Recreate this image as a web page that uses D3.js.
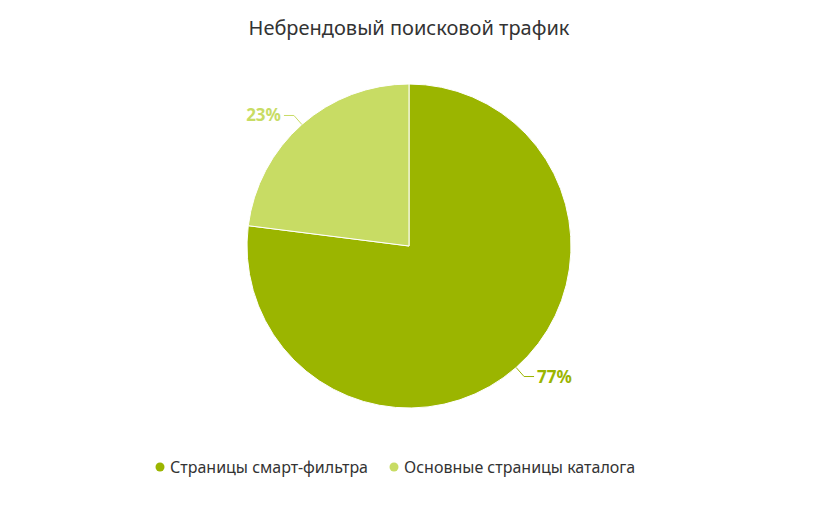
<!DOCTYPE html>
<html><head><meta charset="utf-8">
<script src="https://cdn.jsdelivr.net/npm/d3@7"></script>
<style>body{margin:0;background:#fff}</style>
</head><body>
<script>
var w = 818, h = 506;
var categories = ["Страницы смарт-фильтра", "Основные страницы каталога"];
var values = [77, 23];
var colors = ["#9bb500", "#c8dc64"];

var svg = d3.select("body").append("svg").attr("width", w).attr("height", h)
  .style("font-family", "'Noto Sans', sans-serif");

svg.append("text").attr("x", w/2).attr("y", 35).attr("text-anchor", "middle")
  .attr("font-size", 20).attr("fill", "#333").text("Небрендовый поисковой трафик");

var cx = 409, cy = 246, r = 162;
var pie = d3.pie().sort(null).value(function(d){ return d; });
var arc = d3.arc().innerRadius(0).outerRadius(r);
var arcs = pie(values);
var g = svg.append("g").attr("transform", "translate(" + cx + "," + cy + ")");

g.selectAll("path").data(arcs).enter().append("path")
  .attr("d", arc)
  .attr("fill", function(d, i){ return colors[i]; })
  .attr("stroke", "#fff").attr("stroke-width", 1);

arcs.forEach(function(d, i){
  var a = (d.startAngle + d.endAngle) / 2;
  var p0 = [Math.sin(a) * r, -Math.cos(a) * r];
  var p1 = [Math.sin(a) * (r + 12), -Math.cos(a) * (r + 12)];
  var right = Math.sin(a) > 0;
  var p2 = [p1[0] + (right ? 10 : -10), p1[1]];
  g.append("polyline").attr("points", [p0, p1, p2].map(function(p){ return p.join(","); }).join(" "))
    .attr("fill", "none").attr("stroke", colors[i]).attr("stroke-width", 1);
  g.append("text").attr("x", p2[0] + (right ? 3 : -3)).attr("y", p2[1] + 6)
    .attr("text-anchor", right ? "start" : "end")
    .attr("font-size", 17).attr("font-weight", "bold").attr("fill", colors[i])
    .text(values[i] + "%");
});

var legend = svg.append("g").attr("transform", "translate(0,467)");
var xs = [160, 394];
categories.forEach(function(c, i){
  legend.append("circle").attr("cx", xs[i]).attr("cy", 0).attr("r", 4.5).attr("fill", colors[i]);
  legend.append("text").attr("x", xs[i] + 10).attr("y", 6).attr("font-size", 16)
    .attr("fill", "#333").text(c);
});
</script>
</body></html>
